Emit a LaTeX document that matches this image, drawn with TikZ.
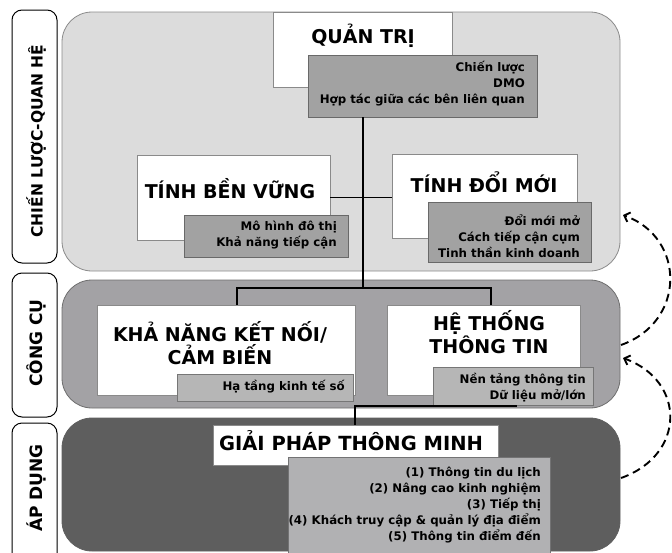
\documentclass[tikz,border=0pt]{standalone}
\usepackage{fontspec}
\setmainfont{DejaVu Sans}
\newfontfamily\titlefont{DejaVu Sans Bold}
\newfontfamily\itemfont{DejaVu Sans Bold}
\usetikzlibrary{fit,arrows.meta}
\definecolor{panelA}{HTML}{DCDCDC}
\definecolor{panelB}{HTML}{A3A2A5}
\definecolor{panelC}{HTML}{5E5E5E}
\definecolor{subA}{HTML}{A2A2A2}
\definecolor{subB}{HTML}{B6B6B6}
\definecolor{subC}{HTML}{B1B1B3}
\definecolor{edgegray}{HTML}{8A8A8A}
\begin{document}
\begin{tikzpicture}[x=1pt,y=-1pt,
  panel/.style={rounded corners=30pt, line width=0.8pt, inner sep=0pt},
  sidebox/.style={draw=black, line width=1pt, rounded corners=10pt, fill=white, inner sep=0pt},
  sidetext/.style={rotate=90, font=\titlefont\fontsize{17}{20}\selectfont, inner sep=0pt},
  wbox/.style={draw=edgegray, fill=white, inner sep=0pt, line width=0.6pt},
  sbox/.style={draw=#1!65!black, fill=#1, inner sep=0pt, line width=0.6pt},
  title/.style={font=\titlefont\fontsize{19}{17.5}\selectfont, align=center, anchor=base, inner sep=0pt},
  items/.style={font=\itemfont\fontsize{11.8}{16}\selectfont, align=right, anchor=east, inner sep=0pt},
  link/.style={line width=1.2pt},
  cyclearrow/.style={line width=1.9pt, dash pattern=on 8pt off 5pt, -{Straight Barb[length=5pt,width=10pt]}}
]
\useasboundingbox (0,0) rectangle (672,552);
% panels
\node[panel, draw=edgegray, fill=panelA, fit={(62,12)(620,271)}] (pA) {};
\node[panel, draw=edgegray!80!black, fill=panelB, fit={(62,280)(620,408)}] (pB) {};
\node[panel, draw=panelC, fill=panelC, fit={(62,418)(620,551)}] (pC) {};
% side labels
\node[sidebox, fit={(12,10)(57,263)}] (sA) {};
\node[sidetext, font=\titlefont\fontsize{15.5}{20}\selectfont] (tA) at (36,141) {CHIẾN LƯỢC-QUAN HỆ};
\node[sidebox, fit={(12,273)(57,417)}] (sB) {};
\node[sidetext] (tB) at (36,343) {CÔNG CỤ};
\node[sidebox, fit={(12,423)(57,575)}] (sC) {};
\node[sidetext] (tC) at (36,488) {ÁP DỤNG};
% white boxes
\node[wbox, fit={(273,12)(452,87)}] (qt) {};
\node[wbox, fit={(137,155)(330,240)}] (ben) {};
\node[wbox, fit={(392,154)(577,238)}] (doi) {};
\node[wbox, fit={(97,305)(355,395)}] (kn) {};
\node[wbox, fit={(387,305)(580,395)}] (ht) {};
\node[wbox, fit={(213,425)(498,465)}] (gp) {};
% sub boxes
\node[sbox=subA, fit={(308,55)(537,117)}] (qs) {};
\node[sbox=subA, fit={(184,215)(348,257)}] (bs) {};
\node[sbox=subA, fit={(428,202)(591,262)}] (ds) {};
\node[sbox=subB, fit={(177,374)(353,401)}] (ks) {};
\node[sbox=subB, fit={(433,367)(593,405)}] (hs) {};
\node[sbox=subC, fit={(288,457)(550,580)}] (gs) {};
% titles
\node[title] (tq) at (363,43) {QUẢN TRỊ};
\node[title] (tb) at (230,198) {TÍNH BỀN VỮNG};
\node[title] (td) at (484,192) {TÍNH ĐỔI MỚI};
\node[title] (tk) at (220,364) {KHẢ NĂNG KẾT NỐI/\\CẢM BIẾN};
\node[title] (th) at (489,353) {HỆ THỐNG\\THÔNG TIN};
\node[title, font=\titlefont\fontsize{19.5}{17.5}\selectfont] (tg) at (351,450) {GIẢI PHÁP THÔNG MINH};
% items
\node[items] (iq) at (525,84) {Chiến lược\\DMO\\Hợp tác giữa các bên liên quan};
\node[items] (ib) at (337,235) {Mô hình đô thị\\Khả năng tiếp cận};
\node[items] (id) at (580,236) {Đổi mới mở\\Cách tiếp cận cụm\\Tinh thần kinh doanh};
\node[items] (ik) at (345,387) {Hạ tầng kinh tế số};
\node[items] (ih) at (586,388) {Nền tảng thông tin\\Dữ liệu mở/lớn};
\node[items] (ig) at (541,505) {(1) Thông tin du lịch\\(2) Nâng cao kinh nghiệm\\(3) Tiếp thị\\(4) Khách truy cập \& quản lý địa điểm\\(5) Thông tin điểm đến};
% connectors
\coordinate (j0) at (363,288);
\coordinate (jl) at (237,288);
\coordinate (jr) at (491,288);
\draw[link] (qs.south -| j0) -- (j0);
\draw[link] (ben.east) -- (ben.east -| doi.west);
\draw[link] (jl |- kn.north) -- (jl) -- (jr) -- (jr |- ht.north);
\coordinate (h1) at (517,406);
\coordinate (h2) at (355,406);
\draw[link] (h1) -- (h2) -- (h2 |- gp.north);
% cycle arrows
\coordinate (a1s) at (621,345);
\coordinate (a1e) at (623,215);
\draw[cyclearrow] (a1s) .. controls (686,322) and (686,238) .. (a1e);
\coordinate (a2s) at (621,478);
\coordinate (a2e) at (623,358);
\draw[cyclearrow] (a2s) .. controls (686,455) and (686,381) .. (a2e);
\end{tikzpicture}
\end{document}
